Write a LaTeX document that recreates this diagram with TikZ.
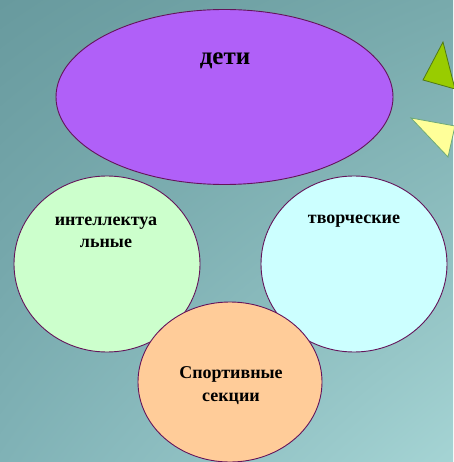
\documentclass[tikz,border=0pt]{standalone}
\usepackage{fontspec}
\setmainfont{Liberation Serif}
\usetikzlibrary{shapes.geometric,shadings}
\definecolor{bgTL}{RGB}{104,154,158}
\definecolor{bgTR}{RGB}{120,170,172}
\definecolor{bgBL}{RGB}{128,178,182}
\definecolor{bgBR}{RGB}{165,212,212}
\definecolor{purplefill}{RGB}{176,96,248}
\definecolor{greenfill}{RGB}{204,255,204}
\definecolor{cyanfill}{RGB}{204,255,255}
\definecolor{orangefill}{RGB}{255,204,153}
\definecolor{edgecol}{RGB}{100,20,90}
\definecolor{trigreen}{RGB}{153,204,0}
\definecolor{triyellow}{RGB}{255,255,153}
\tikzset{
  blob/.style={ellipse, draw=edgecol, line width=0.9pt, inner sep=0pt},
  lbl/.style={font=\bfseries, text=black, align=center, inner sep=0pt}
}
\begin{document}
\begin{tikzpicture}[x=1pt,y=-1pt]
\useasboundingbox (0,0) rectangle (453,462);
\shade[upper left=bgTL, upper right=bgTR, lower left=bgBL, lower right=bgBR] (0,0) rectangle (453,462);
% triangles
\fill[trigreen, draw={rgb,255:red,80;green,120;blue,20}, line width=0.8pt] (443,42) -- (423,80) -- (455,89) -- cycle;
\fill[triyellow, draw={rgb,255:red,110;green,170;blue,120}, line width=0.8pt] (411,118) -- (455,126) -- (448,157) -- cycle;
% shapes
\node[blob, fill=greenfill, minimum width=186pt, minimum height=176pt] (intel) at (107,264) {};
\node[blob, fill=cyanfill, minimum width=186pt, minimum height=176pt] (tvor) at (354,264) {};
\node[blob, fill=orangefill, minimum width=184pt, minimum height=160pt] (sport) at (230,382) {};
\node[blob, fill=purplefill, minimum width=337pt, minimum height=175pt] (deti) at (224.5,97) {};
% labels
\node[lbl, font=\bfseries\fontsize{25}{28}\selectfont] (tdeti) at (225,61) {дети};
\node[lbl, font=\bfseries\fontsize{18}{22}\selectfont] (tintel) at (106,232) {интеллектуа\\льные};
\node[lbl, font=\bfseries\fontsize{18}{22}\selectfont] (ttvor) at (354,221) {творческие};
\node[lbl, font=\bfseries\fontsize{18}{23}\selectfont] (tsport) at (231,386) {Спортивные\\секции};
\end{tikzpicture}
\end{document}
